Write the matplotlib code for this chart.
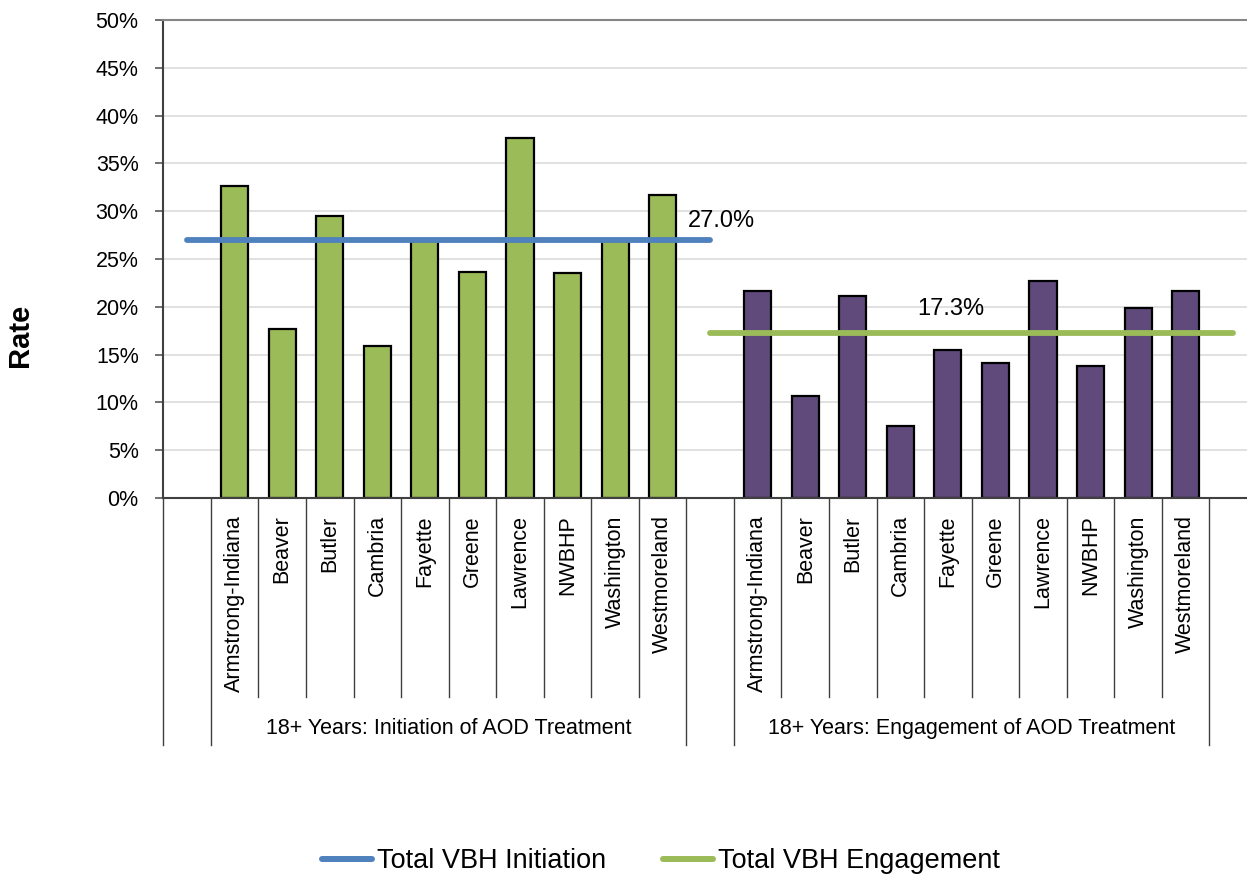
import numpy as np
import matplotlib
matplotlib.use("Agg")
import matplotlib.pyplot as plt
from matplotlib import font_manager
from matplotlib.lines import Line2D
from matplotlib.transforms import blended_transform_factory

# ---- data -------------------------------------------------------------
regions = ["Armstrong-Indiana", "Beaver", "Butler", "Cambria", "Fayette",
           "Greene", "Lawrence", "NWBHP", "Washington", "Westmoreland"]
initiation_rates = [32.6, 17.7, 29.5, 15.9, 26.9, 23.6, 37.7, 23.5, 26.9, 31.7]
engagement_rates = [21.7, 10.7, 21.1, 7.5, 15.5, 14.1, 22.7, 13.8, 19.9, 21.7]
group_labels = ["18+ Years: Initiation of AOD Treatment",
                "18+ Years: Engagement of AOD Treatment"]
initiation_total = 27.0
engagement_total = 17.3
y_ticks = [0, 5, 10, 15, 20, 25, 30, 35, 40, 45, 50]

# ---- fonts ------------------------------------------------------------
available = {f.name for f in font_manager.fontManager.ttflist}
narrow_choice = next((n for n in ["Liberation Sans Narrow", "Arial Narrow"]
                      if n in available), None)
regular = "Liberation Sans" if "Liberation Sans" in available else "DejaVu Sans"
narrow = narrow_choice or regular
small_size = 18.7 if narrow_choice else 15.5
plt.rcParams["font.family"] = [regular, "DejaVu Sans"]

GREEN = "#9BBB59"
PURPLE = "#604A7B"
BLUE = "#4F81BD"

fig = plt.figure(figsize=(12.47, 8.76), dpi=100)
ax = fig.add_axes([0.131, 0.4315, 0.877, 0.5457])

# slot layout: blank, 10 initiation bars, blank, 10 engagement bars, blank
n = len(regions)
x_init = np.arange(1, n + 1)
x_eng = np.arange(n + 2, 2 * n + 2)
n_slots = 2 * n + 3

ax.bar(x_init, initiation_rates, width=0.57, color=GREEN,
       edgecolor="black", linewidth=1.6, zorder=2)
ax.bar(x_eng, engagement_rates, width=0.57, color=PURPLE,
       edgecolor="black", linewidth=1.6, zorder=2)

# total reference lines spanning each group
ax.plot([0, n + 1], [initiation_total, initiation_total], color=BLUE,
        lw=4.2, solid_capstyle="round", zorder=3)
ax.plot([n + 1, 2 * n + 2], [engagement_total, engagement_total], color=GREEN,
        lw=4.2, solid_capstyle="round", zorder=3)

ax.annotate(f"{initiation_total:.1f}%", xy=(n + 1, initiation_total),
            xytext=(11, 19), textcoords="offset pixels", ha="center",
            va="center", fontsize=17, family=regular, zorder=4)
ax.annotate(f"{engagement_total:.1f}%", xy=(16, engagement_total),
            xytext=(3, 24), textcoords="offset pixels", ha="center",
            va="center", fontsize=17, family=regular, zorder=4)

ax.set_xlim(-0.5, n_slots - 0.5)
ax.set_ylim(0, 50)
ax.set_yticks(y_ticks)
ax.set_yticklabels([f"{v}%" for v in y_ticks], family=narrow,
                   fontsize=small_size)
ax.tick_params(axis="y", length=5.8, width=1.2, color="#595959", pad=12)
ax.yaxis.grid(True, color="#D9D9D9", lw=1.1, zorder=0)
ax.set_axisbelow(True)

ax.set_xticks(list(x_init) + list(x_eng))
ax.set_xticklabels(regions + regions, rotation=90, family=narrow,
                   fontsize=small_size, ha="center", va="top")
ax.tick_params(axis="x", length=0, pad=12.5)

for side in ("left", "bottom"):
    ax.spines[side].set_color("#404040")
    ax.spines[side].set_linewidth(1.5)
ax.spines["top"].set_color("#868686")
ax.spines["top"].set_linewidth(1.5)
ax.spines["right"].set_visible(False)

# category-axis dividers below the plot
trans = blended_transform_factory(ax.transData, ax.transAxes)
long_bounds = {0, 1, n + 1, n + 2, 2 * n + 2, 2 * n + 3}
for k in range(n_slots + 1):
    bottom = -0.517 if k in long_bounds else -0.416
    ax.plot([k - 0.5, k - 0.5], [0, bottom], transform=trans, color="#404040",
            lw=1.0, clip_on=False, zorder=1)

for label, xs in zip(group_labels, (x_init, x_eng)):
    ax.text(xs.mean(), -0.483, label, transform=trans, ha="center",
            va="center", family=narrow, fontsize=small_size)

fig.text(0.016, 1 - 335 / 876, "Rate", rotation=90, ha="center", va="center",
         fontsize=21, fontweight="bold", family=regular)

handles = [Line2D([], [], color=BLUE, lw=4.3, solid_capstyle="round"),
           Line2D([], [], color=GREEN, lw=4.3, solid_capstyle="round")]
fig.legend(handles, ["Total VBH Initiation", "Total VBH Engagement"],
           loc="center", bbox_to_anchor=(661 / 1247, 1 - 861 / 876), ncol=2,
           frameon=False, prop={"family": regular, "size": 19.5},
           handlelength=1.85, handletextpad=0.18, columnspacing=2.1)

fig.savefig("out.png", dpi=100)
